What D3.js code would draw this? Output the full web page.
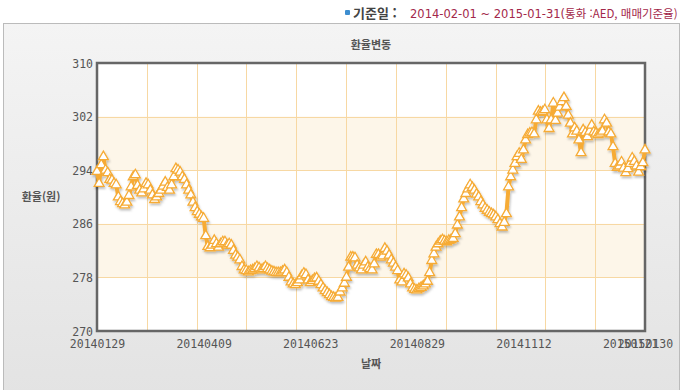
<!DOCTYPE html>
<html lang="ko">

<head>
  <meta charset="UTF-8">
  <title>환율변동</title>
  <script src="https://cdn.jsdelivr.net/npm/d3@7"></script>
  <style type="text/css">
    html,
    body {
      margin: 0;
      background: #fff;
    }

    svg {
      display: block;
    }

    .tick text {
      font-family: "DejaVu Sans Mono", monospace;
      font-size: 11.5px;
      fill: #555;
    }
  </style>
</head>

<body>
  <script>
    // AED 매매기준율, 2014-01-29 ~ 2015-01-30 (영업일 258개)
    var rates = [
      293.8, 292.0, 294.8, 296.0, 294.0, 293.6, 292.6, 292.5, 292.0, 291.8,
      290.0, 289.3, 289.0, 288.8, 289.2, 290.2, 291.5, 293.0, 293.3, 291.7,
      291.0, 290.6, 291.2, 292.0, 291.8, 291.0, 290.3, 289.6, 290.0, 290.5,
      291.0, 291.6, 292.2, 291.4, 291.0, 291.8, 293.0, 294.2, 294.0, 293.7,
      293.0, 292.6, 291.8, 291.0, 290.3, 289.2, 288.4, 287.8, 287.4, 287.0,
      286.8, 284.2, 282.6, 282.4, 282.8, 283.5, 283.0, 282.5, 283.0, 283.3,
      283.3, 282.8, 283.0, 282.8, 282.0, 281.3, 281.0, 280.6, 279.6, 279.1,
      279.0, 278.8, 279.0, 279.1, 279.3, 279.6, 279.4, 279.1, 279.3, 279.6,
      279.3, 279.1, 278.9, 278.8, 278.7, 278.7, 278.7, 278.9, 279.1, 278.7,
      278.0, 277.3, 277.0, 276.9, 277.2, 277.6, 278.2, 278.6, 278.4, 277.6,
      277.2, 277.5, 277.8, 277.9, 277.4, 276.9, 276.4, 276.0, 275.7, 275.4,
      275.1, 275.0, 274.9, 275.0, 275.8, 276.4, 277.1, 278.0, 279.5, 281.0,
      281.0, 280.9, 279.8, 279.4, 279.1, 279.8, 280.3, 279.5, 279.3, 279.1,
      280.0, 281.4, 281.4, 281.0, 281.2, 282.3, 281.9, 281.3, 280.6, 280.1,
      279.5, 279.0, 277.6, 277.3, 278.5, 278.3, 277.9, 277.0, 276.4, 276.2,
      276.1, 276.3, 276.5, 276.7, 277.0, 277.4, 278.7, 280.5, 281.5, 282.5,
      283.0, 283.4, 283.6, 283.4, 283.3, 283.5, 283.6, 283.8, 284.5, 285.8,
      287.0, 288.4, 289.7, 290.5, 291.2, 291.8, 291.4, 291.0, 290.4, 290.0,
      289.3, 288.8, 288.3, 288.0, 287.7, 287.5, 287.3, 287.0, 286.6, 286.0,
      285.5, 286.2, 287.5, 291.5, 293.0, 294.0, 295.0, 296.0, 296.5, 295.6,
      297.0, 298.5, 299.3, 299.5, 299.6, 299.4, 301.5, 302.8, 302.6, 302.7,
      303.0, 301.5, 300.2, 301.5, 304.0, 301.4, 302.5, 303.4, 304.2, 304.8,
      303.5, 302.2, 301.0, 299.4, 300.3, 299.8, 298.5, 296.6, 300.0, 299.6,
      299.0, 299.8, 300.7, 299.7, 299.5, 299.3, 299.5, 299.8, 301.5, 301.0,
      299.7, 299.4, 297.5, 295.0, 294.4, 294.6, 295.2, 294.3, 293.6, 294.2,
      295.0, 295.8, 295.3, 294.6, 293.7, 294.5, 295.1, 297.0
    ];

    // x축에 표시되는 날짜와 그 위치(데이터 순번)
    var dateLabels = ['20140129', '20140409', '20140623', '20140829', '20141112', '20150121', '20150130'];
    var dateIndex = [0, 50, 100, 150, 200, 250, 257];

    var yTicks = [270, 278, 286, 294, 302, 310];

    var W = 684, H = 390;
    var pL = 97, pR = 645, pT = 63, pB = 331;
    var lineColor = '#f6ab35';

    var svg = d3.select('body').append('svg')
      .attr('width', W)
      .attr('height', H);

    var defs = svg.append('defs');
    var grad = defs.append('linearGradient')
      .attr('id', 'bg')
      .attr('x1', 0).attr('y1', 0).attr('x2', 0).attr('y2', 1);
    grad.append('stop').attr('offset', '0%').attr('stop-color', '#f4f4f4');
    grad.append('stop').attr('offset', '100%').attr('stop-color', '#e3e3e3');

    var shadow = defs.append('filter')
      .attr('id', 'shadow')
      .attr('x', '-10%').attr('y', '-10%')
      .attr('width', '120%').attr('height', '130%');
    shadow.append('feDropShadow')
      .attr('dx', 1).attr('dy', 2)
      .attr('stdDeviation', 1.2)
      .attr('flood-color', '#000')
      .attr('flood-opacity', 0.25);

    // 상단 기준일 문구
    svg.append('rect')
      .attr('x', 345).attr('y', 10)
      .attr('width', 5).attr('height', 5)
      .attr('rx', 1)
      .attr('fill', '#3d8ed0');
    var head = svg.append('text')
      .attr('x', 353).attr('y', 18)
      .style('font-family', '"Noto Sans CJK KR", sans-serif')
      .style('font-size', '13px');
    head.append('tspan')
      .attr('font-weight', 'bold')
      .attr('fill', '#444')
      .text('기준일 : ');
    head.append('tspan')
      .attr('x', 410)
      .attr('fill', '#a3284a')
      .style('font-family', '"DejaVu Sans", sans-serif')
      .style('font-size', '11.5px')
      .text('2014-02-01 ~ 2015-01-31(')
      .append('tspan')
      .style('font-family', '"Noto Sans CJK KR", sans-serif')
      .text('통화 :AED, 매매기준율)');

    // 바깥 패널
    svg.append('rect')
      .attr('x', 3.5).attr('y', 23.5)
      .attr('width', 676).attr('height', 372)
      .attr('fill', 'url(#bg)')
      .attr('stroke', '#bbb');

    var x = d3.scaleLinear()
      .domain([0, rates.length - 1])
      .range([pL, pR]);

    var y = d3.scaleLinear()
      .domain([270, 310])
      .range([pB, pT]);

    // 플롯 영역 + 줄무늬
    svg.append('rect')
      .attr('x', pL).attr('y', pT)
      .attr('width', pR - pL).attr('height', pB - pT)
      .attr('fill', '#fff');

    svg.selectAll('rect.band')
      .data(d3.pairs(yTicks).filter(function (d, i) {
        return i % 2 === 1;
      }))
      .enter().append('rect')
      .attr('class', 'band')
      .attr('x', pL)
      .attr('width', pR - pL)
      .attr('y', function (d) {
        return y(d[1]);
      })
      .attr('height', function (d) {
        return y(d[0]) - y(d[1]);
      })
      .attr('fill', '#fdf6e9');

    // 격자
    svg.append('g')
      .selectAll('line')
      .data(yTicks)
      .enter().append('line')
      .attr('x1', pL).attr('x2', pR)
      .attr('y1', function (d) { return Math.round(y(d)) + 0.5; })
      .attr('y2', function (d) { return Math.round(y(d)) + 0.5; })
      .attr('stroke', '#f7d8a3');

    var xGrid = d3.range(1, 11).map(function (k) {
      return k * (rates.length - 1) / 11;
    });
    svg.append('g')
      .selectAll('line')
      .data(xGrid)
      .enter().append('line')
      .attr('x1', function (d) { return Math.round(x(d)) + 0.5; })
      .attr('x2', function (d) { return Math.round(x(d)) + 0.5; })
      .attr('y1', pT).attr('y2', pB)
      .attr('stroke', '#f7d8a3');

    // 축
    var yAxis = svg.append('g')
      .attr('transform', 'translate(' + (pL - 4) + ',0)')
      .call(d3.axisLeft(y).tickValues(yTicks).tickSize(0).tickPadding(0));
    yAxis.select('.domain').remove();
    yAxis.selectAll('text').attr('dy', '0.35em');

    var xAxis = svg.append('g')
      .attr('transform', 'translate(0,' + (pB + 9) + ')')
      .call(d3.axisBottom(x)
        .tickValues(dateIndex)
        .tickFormat(function (d, i) { return dateLabels[i]; })
        .tickSize(0).tickPadding(0));
    xAxis.select('.domain').remove();
    xAxis.selectAll('text').attr('dy', '0.71em');

    svg.append('rect')
      .attr('x', pL).attr('y', pT)
      .attr('width', pR - pL).attr('height', pB - pT)
      .attr('fill', 'none')
      .attr('stroke', '#666')
      .attr('stroke-width', 2.5);

    // 선 + 마커
    var line = d3.line()
      .x(function (d, i) { return x(i); })
      .y(function (d) { return y(d); });

    var series = svg.append('g').attr('filter', 'url(#shadow)');
    series.append('path')
      .datum(rates)
      .attr('d', line)
      .attr('fill', 'none')
      .attr('stroke', lineColor)
      .attr('stroke-width', 4)
      .attr('stroke-linejoin', 'round');

    var tri = d3.symbol().type(d3.symbolTriangle).size(42);
    series.selectAll('path.pt')
      .data(rates)
      .enter().append('path')
      .attr('class', 'pt')
      .attr('d', tri)
      .attr('transform', function (d, i) {
        return 'translate(' + x(i) + ',' + y(d) + ')';
      })
      .attr('fill', '#fff')
      .attr('stroke', lineColor)
      .attr('stroke-width', 1.3);

    // 제목 / 축 이름
    var labelFont = '"Noto Sans CJK KR", sans-serif';
    svg.append('text')
      .attr('x', (pL + pR) / 2).attr('y', 49)
      .attr('text-anchor', 'middle')
      .attr('font-weight', 'bold')
      .attr('fill', '#555')
      .style('font-family', labelFont)
      .style('font-size', '11px')
      .text('환율변동');

    svg.append('text')
      .attr('x', 41).attr('y', 201)
      .attr('text-anchor', 'middle')
      .attr('font-weight', 'bold')
      .attr('fill', '#555')
      .style('font-family', labelFont)
      .style('font-size', '11px')
      .text('환율(원)');

    svg.append('text')
      .attr('x', (pL + pR) / 2).attr('y', 368)
      .attr('text-anchor', 'middle')
      .attr('font-weight', 'bold')
      .attr('fill', '#555')
      .style('font-family', labelFont)
      .style('font-size', '11px')
      .text('날짜');
  </script>
</body>

</html>
